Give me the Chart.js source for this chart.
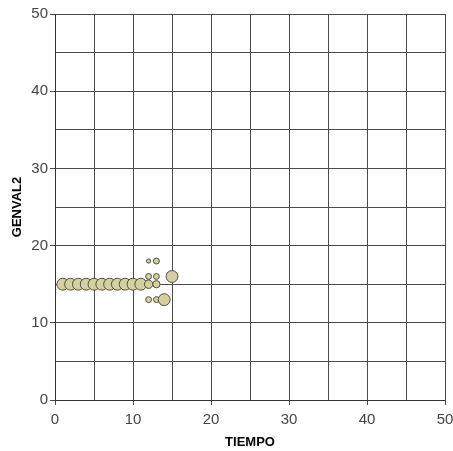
<!DOCTYPE html>
<html>
<head>
<meta charset="utf-8">
<script src="https://cdn.jsdelivr.net/npm/chart.js@4/dist/chart.umd.min.js"></script>
<style>
  html, body { margin: 0; padding: 0; background: #ffffff; }
  #wrap { width: 453px; height: 451px; position: relative; }
</style>
</head>
<body>
<div id="wrap"><canvas id="c" width="453" height="451"></canvas></div>
<script>
// Observations: TIEMPO vs GENVAL2, with the number of cases at each point
const tiempo    = [1, 2, 3, 4, 5, 6, 7, 8, 9, 10, 11, 12, 12, 12, 12, 13, 13, 13, 13, 14, 15];
const genval2   = [15, 15, 15, 15, 15, 15, 15, 15, 15, 15, 15, 18, 16, 15, 13, 18, 16, 15, 13, 13, 16];
const frecuencia = [8, 8, 8, 8, 8, 8, 8, 8, 8, 8, 8, 1, 2, 4, 2, 2, 2, 3, 2, 8, 8];

const xTicks = [0, 10, 20, 30, 40, 50];
const yTicks = [0, 10, 20, 30, 40, 50];

// bubble area grows with the case count
const radius = n => 2.1 * Math.sqrt(n);

const points = tiempo.map((t, i) => ({ x: t, y: genval2[i], r: radius(frecuencia[i]) }));

const FONT = "'Liberation Sans', Arial, sans-serif";
const gridColor = '#4a4a4a';
const majorTick = ctx => (ctx.tick && xTicks.includes(ctx.tick.value)) ? gridColor : 'rgba(0,0,0,0)';
const majorTickY = ctx => (ctx.tick && yTicks.includes(ctx.tick.value)) ? gridColor : 'rgba(0,0,0,0)';

new Chart(document.getElementById('c'), {
  type: 'bubble',
  data: {
    datasets: [{
      data: points,
      backgroundColor: '#d6d0a0',
      borderColor: '#4e4e40',
      borderWidth: 1,
      hoverRadius: 0
    }]
  },
  options: {
    responsive: false,
    animation: false,
    devicePixelRatio: 1,
    layout: { padding: { left: 0, right: 8, top: 14, bottom: 0 } },
    plugins: { legend: { display: false }, tooltip: { enabled: false } },
    scales: {
      x: {
        type: 'linear',
        min: 0, max: 50,
        ticks: {
          stepSize: 5,
          autoSkip: false,
          maxRotation: 0,
          padding: 6,
          color: '#444444',
          font: { family: FONT, size: 15 },
          callback: v => xTicks.includes(v) ? String(v) : ''
        },
        grid: { color: gridColor, lineWidth: 1, tickLength: 5, tickColor: majorTick },
        border: { color: '#333333', width: 1 },
        title: {
          display: true, text: 'TIEMPO', color: '#000000',
          font: { family: FONT, size: 13, weight: 'bold' },
          padding: { top: 1, bottom: 1 }
        },
        afterFit: s => { s.height = 51; s.paddingLeft = 0; s.paddingRight = 0; }
      },
      y: {
        type: 'linear',
        min: 0, max: 50,
        ticks: {
          stepSize: 5,
          autoSkip: false,
          padding: 2,
          color: '#444444',
          font: { family: FONT, size: 15 },
          callback: v => yTicks.includes(v) ? String(v) : ''
        },
        grid: { color: gridColor, lineWidth: 1, tickLength: 5, tickColor: majorTickY },
        border: { color: '#333333', width: 1 },
        title: {
          display: true, text: 'GENVAL2', color: '#000000',
          font: { family: FONT, size: 13, weight: 'bold' },
          padding: { top: 10, bottom: 4 }
        },
        afterFit: s => { s.width = 55; s.paddingTop = 0; s.paddingBottom = 0; }
      }
    }
  }
});
</script>
</body>
</html>
